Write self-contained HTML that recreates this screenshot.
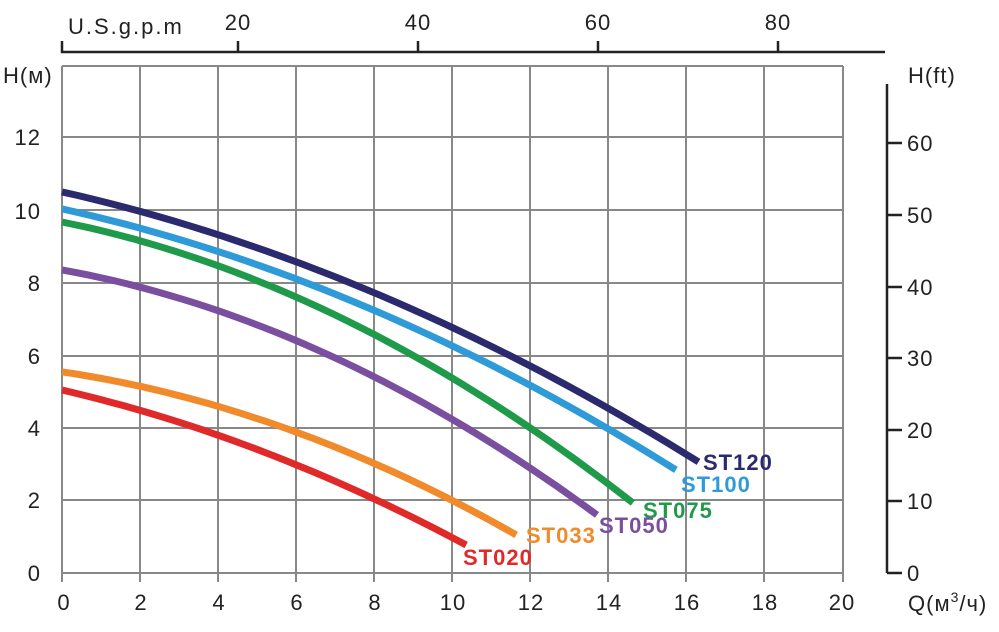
<!DOCTYPE html>
<html><head><meta charset="utf-8"><style>
html,body{margin:0;padding:0;background:#fff;}
svg{display:block;font-family:"Liberation Sans",Arial,sans-serif;}
</style></head><body>
<svg id="s" width="999" height="632" xmlns="http://www.w3.org/2000/svg">
<g stroke="#888" stroke-width="2" fill="none">
<line x1="62" y1="66" x2="843" y2="66"/><line x1="62" y1="137" x2="843" y2="137"/><line x1="62" y1="210" x2="843" y2="210"/><line x1="62" y1="283" x2="843" y2="283"/><line x1="62" y1="356" x2="843" y2="356"/><line x1="62" y1="428" x2="843" y2="428"/><line x1="62" y1="500" x2="843" y2="500"/><line x1="62" y1="573" x2="843" y2="573"/>
<line x1="62" y1="66" x2="62" y2="582"/><line x1="140" y1="66" x2="140" y2="582"/><line x1="218" y1="66" x2="218" y2="582"/><line x1="296" y1="66" x2="296" y2="582"/><line x1="374" y1="66" x2="374" y2="582"/><line x1="452" y1="66" x2="452" y2="582"/><line x1="530" y1="66" x2="530" y2="582"/><line x1="608" y1="66" x2="608" y2="582"/><line x1="686" y1="66" x2="686" y2="582"/><line x1="764" y1="66" x2="764" y2="582"/><line x1="843" y1="66" x2="843" y2="582"/>
</g>
<g stroke="#222" stroke-width="2.5" fill="none">
<path d="M62 41V52H885"/><line x1="238" y1="41" x2="238" y2="52"/><line x1="418" y1="41" x2="418" y2="52"/><line x1="598" y1="41" x2="598" y2="52"/><line x1="778" y1="41" x2="778" y2="52"/>
<line x1="887" y1="84" x2="887" y2="573"/>
<line x1="887" y1="573" x2="902" y2="573"/><line x1="887" y1="501" x2="902" y2="501"/><line x1="887" y1="430" x2="902" y2="430"/><line x1="887" y1="358" x2="902" y2="358"/><line x1="887" y1="287" x2="902" y2="287"/><line x1="887" y1="215" x2="902" y2="215"/><line x1="887" y1="143" x2="902" y2="143"/>
</g>
<g fill="#222" font-size="22" letter-spacing="1">
<text x="68" y="34" letter-spacing="2">U.S.g.p.m</text>
<g text-anchor="middle"><text x="238" y="30">20</text><text x="418" y="30">40</text><text x="598" y="30">60</text><text x="778" y="30">80</text></g>
<text x="3" y="83">H(м)</text><text x="908" y="83">H(ft)</text>
<g text-anchor="end"><text x="41" y="145">12</text><text x="41" y="219">10</text><text x="41" y="291">8</text><text x="41" y="364">6</text><text x="41" y="436">4</text><text x="41" y="508">2</text><text x="41" y="581">0</text></g>
<g><text x="907" y="581">0</text><text x="907" y="509">10</text><text x="907" y="438">20</text><text x="907" y="366">30</text><text x="907" y="295">40</text><text x="907" y="223">50</text><text x="907" y="151">60</text></g>
<g text-anchor="middle"><text x="64" y="610">0</text><text x="141" y="610">2</text><text x="219" y="610">4</text><text x="297" y="610">6</text><text x="375" y="610">8</text><text x="453" y="610">10</text><text x="531" y="610">12</text><text x="609" y="610">14</text><text x="687" y="610">16</text><text x="765" y="610">18</text><text x="842" y="610">20</text></g>
<text x="908" y="611">Q(м<tspan font-size="14" dy="-9">3</tspan><tspan dy="9">/ч)</tspan></text>
</g>
<g id="curves" fill="none" stroke-width="7" stroke-linecap="butt"></g>
<g font-size="22" font-weight="bold" letter-spacing="1">
<text x="703" y="470" fill="#2b2a6e">ST120</text>
<text x="681" y="492" fill="#2e9ad8">ST100</text>
<text x="643" y="518" fill="#1f9a4a">ST075</text>
<text x="599" y="533" fill="#7b4fa0">ST050</text>
<text x="526" y="543" fill="#f08a2a">ST033</text>
<text x="463" y="565" fill="#e02a2a">ST020</text>
</g>
</svg>
<script>
var defs=[["#2b2a6e",10.5,8.57,16.3,3.06],["#2e9ad8",10.03,8.1,15.72,2.84],["#1f9a4a",9.67,7.6,14.62,1.93],["#7b4fa0",8.35,6.4,13.7,1.6],["#f08a2a",5.54,3.88,11.63,1.05],["#e02a2a",5.04,2.98,10.35,0.77]];
var g=document.getElementById("curves");
defs.forEach(function(d){
 var a=d[1],h6=d[2],qe=d[3],he=d[4];
 var r1=h6-a,r2=he-a;
 var det=6*qe*qe-36*qe;
 var e=(6*r2-qe*r1)/det, c=(r1-36*e)/6;
 var pts=[];
 for(var i=0;i<=40;i++){var q=qe*i/40;var h=a+c*q+e*q*q;pts.push((62+39.05*q).toFixed(1)+","+(573-36.3*h).toFixed(1));}
 var p=document.createElementNS("http://www.w3.org/2000/svg","polyline");
 p.setAttribute("points",pts.join(" "));p.setAttribute("stroke",d[0]);
 g.appendChild(p);
});
</script>
</body></html>
